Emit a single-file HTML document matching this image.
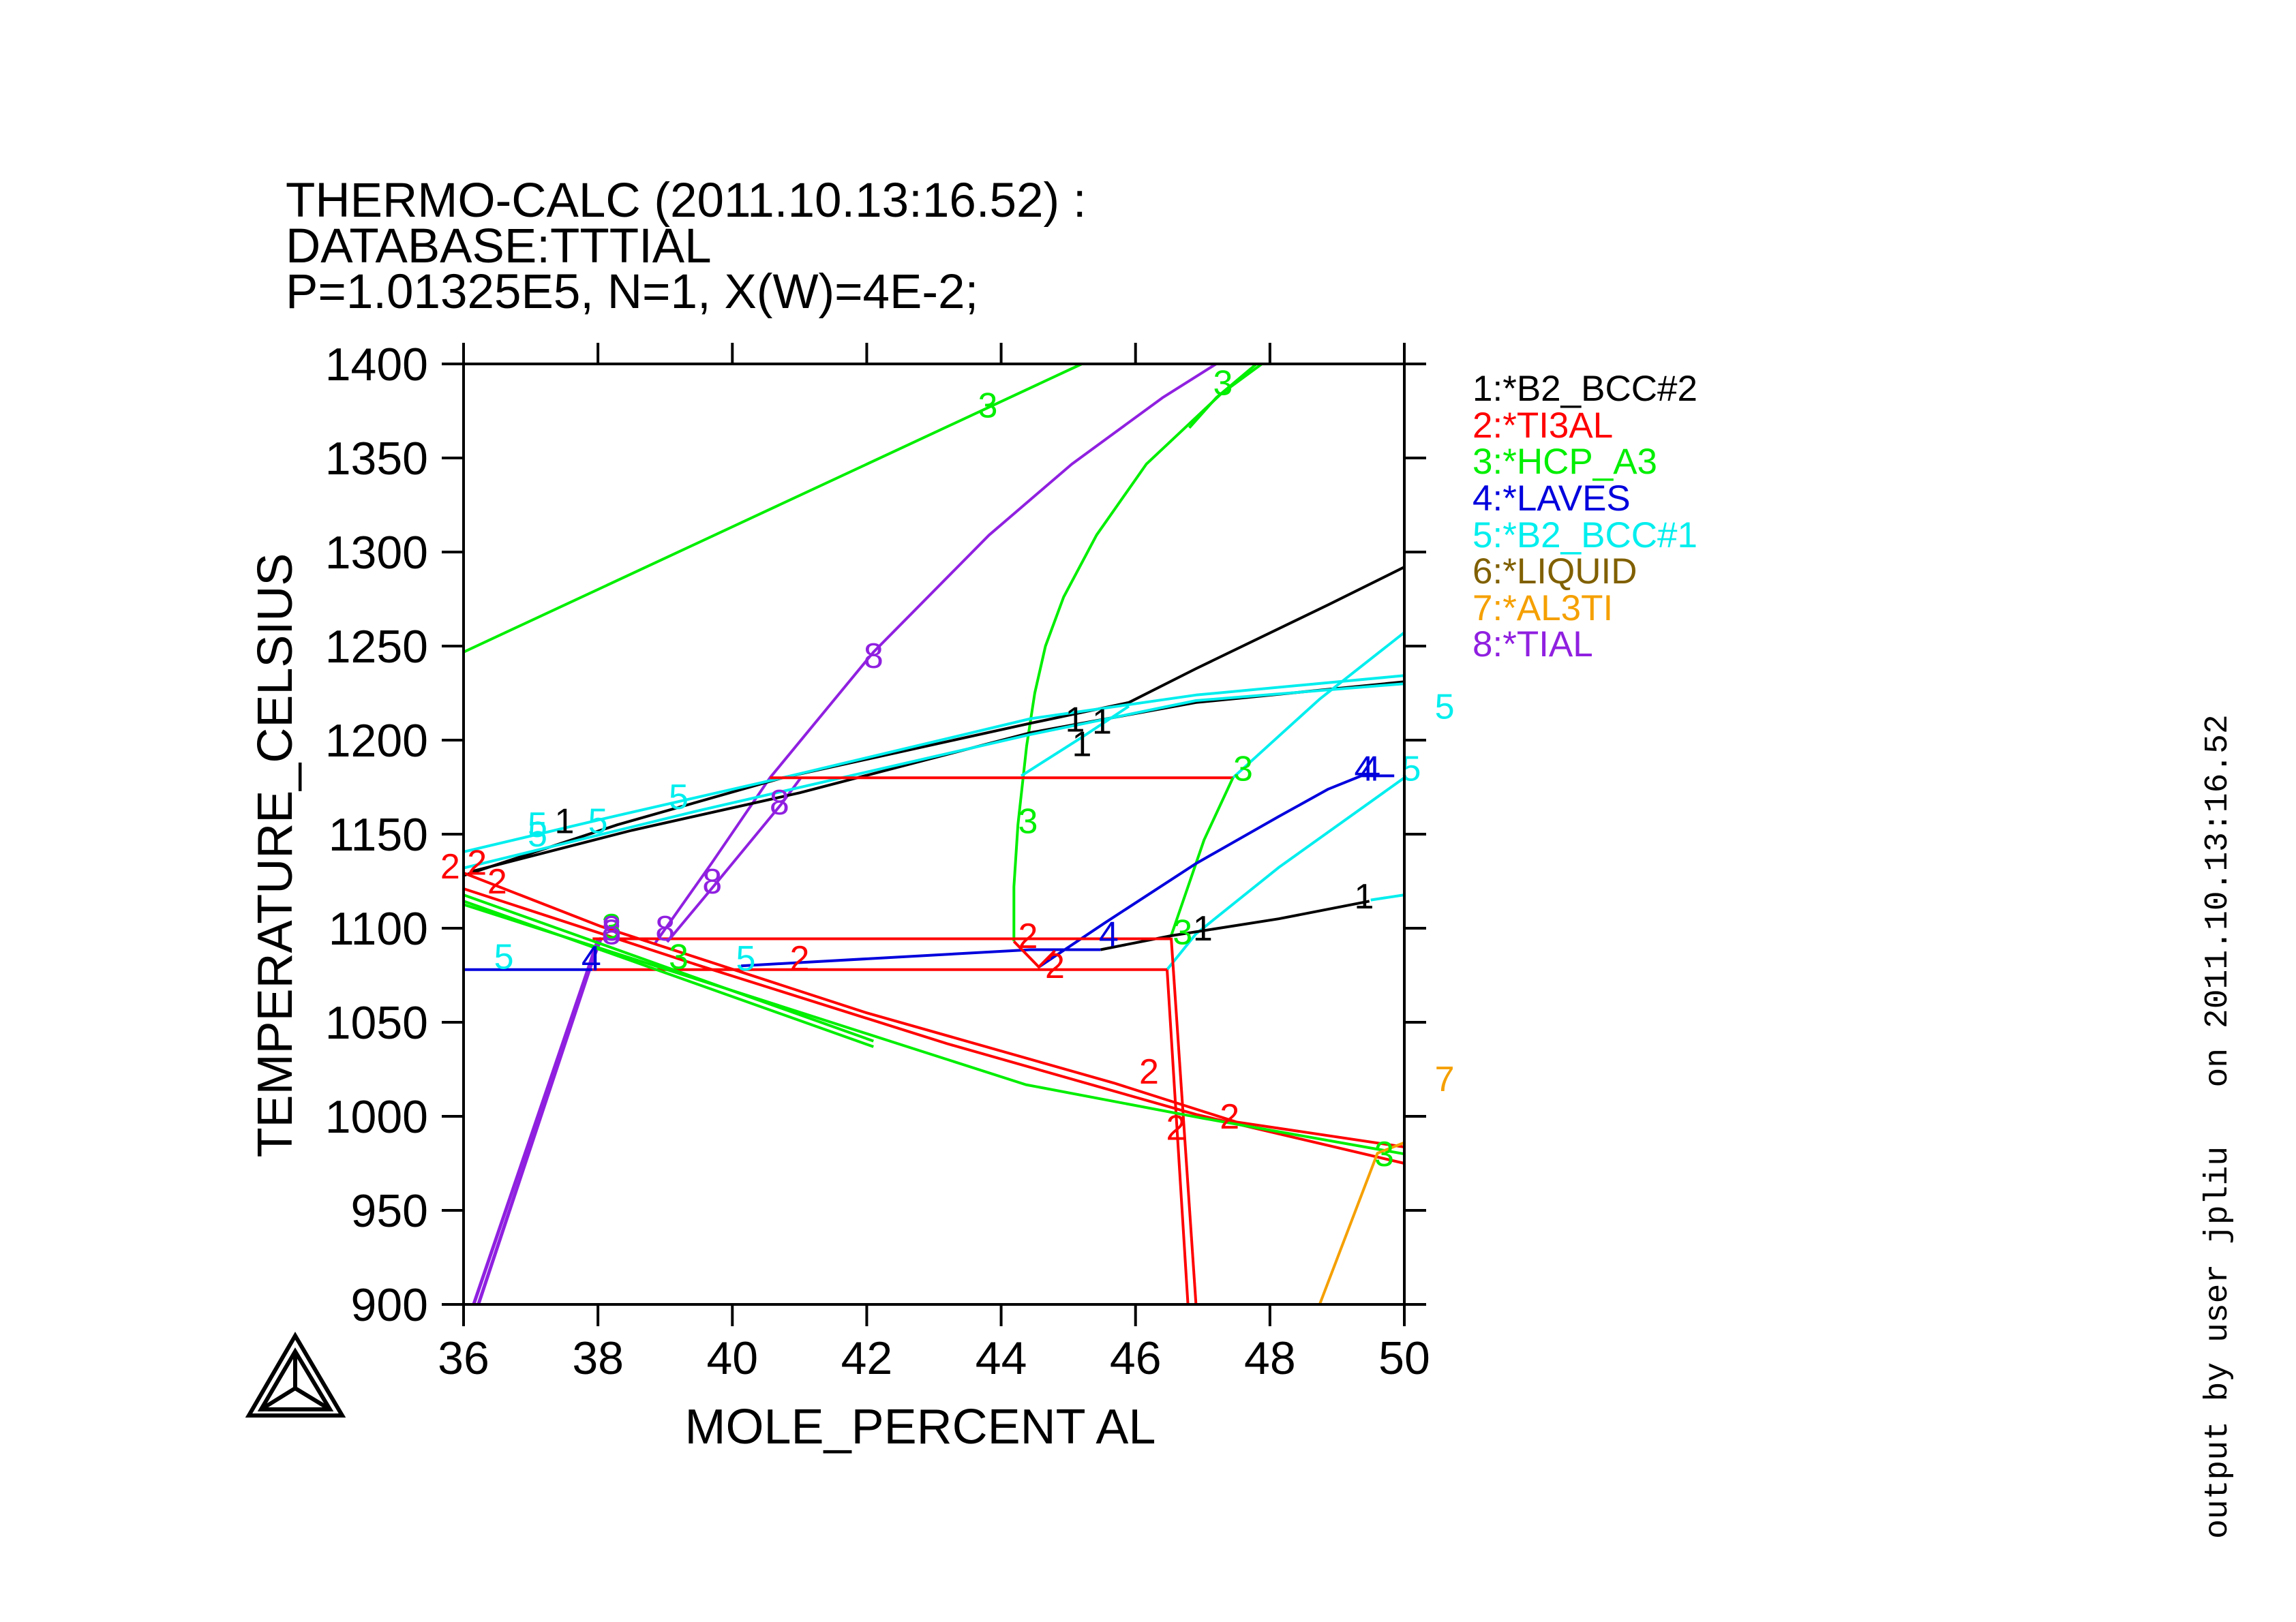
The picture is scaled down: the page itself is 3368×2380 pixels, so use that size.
<!DOCTYPE html>
<html><head><meta charset="utf-8"><style>
html,body{margin:0;padding:0;background:#fff;}
svg{display:block;font-family:"Liberation Sans",sans-serif;}
</style></head><body>
<svg id="chart" width="3368" height="2380" viewBox="0 0 3368 2380" xmlns="http://www.w3.org/2000/svg">
<g font-size="71" fill="#000">
<text x="419" y="318">THERMO-CALC (2011.10.13:16.52) :</text>
<text x="419" y="385">DATABASE:TTTIAL</text>
<text x="419" y="452">P=1.01325E5, N=1, X(W)=4E-2;</text>
</g>
<g id="curves"></g>
<g id="labels" font-size="52"></g>
<g id="axes"></g>
<text x="1350" y="2118" font-size="72" text-anchor="middle">MOLE_PERCENT AL</text>
<text transform="translate(428,1255) rotate(-90)" font-size="72" text-anchor="middle">TEMPERATURE_CELSIUS</text>
<g font-size="53">
<text x="2160" y="588" fill="#000">1:*B2_BCC#2</text>
<text x="2160" y="642" fill="#f00">2:*TI3AL</text>
<text x="2160" y="695" fill="#0e0">3:*HCP_A3</text>
<text x="2160" y="749" fill="#00d">4:*LAVES</text>
<text x="2160" y="803" fill="#0ee">5:*B2_BCC#1</text>
<text x="2160" y="856" fill="#806000">6:*LIQUID</text>
<text x="2160" y="910" fill="#f5a000">7:*AL3TI</text>
<text x="2160" y="963" fill="#9020e0">8:*TIAL</text>
</g>
<text transform="translate(3266,2258) rotate(-90)" font-family="Liberation Mono,monospace" font-size="48" xml:space="preserve">output by user jpliu   on 2011.10.13:16.52</text>
<g fill="none" stroke="#000" stroke-width="6">
<polygon points="433,1960 365,2077 502,2077"/>
<polygon points="433,1983 383,2068 484,2068"/>
<path d="M433,1983 L433,2037 M383,2068 L433,2037 M484,2068 L433,2037"/>
</g>
</svg>
<script>
const xTicks=[36,38,40,42,44,46,48,50];
const yTicks=[900,950,1000,1050,1100,1150,1200,1250,1300,1350,1400];
const seriesColors={1:"#000",2:"#f00",3:"#0e0",4:"#00d",5:"#0ee",7:"#f5a000",8:"#9020e0"};
const green1=[[36,1246.8],[45.2,1400]];
const purpleA=[[38.85,1092],[39.7,1135],[40.56,1180],[42.1,1246.8],[43.82,1309],[45.05,1346.7],[46.4,1382],[47.2,1400]];
const purpleB=[[39.03,1092.7],[39.76,1124],[40.72,1165.6],[41.02,1180]];
const purpleC=[[36.15,900],[37.85,1078],[38.0,1094]];
const purpleD=[[36.22,900],[37.92,1083],[38.05,1095]];
const green2=[[47.88,1400],[47.27,1384],[46.16,1346.7],[45.42,1309],[44.93,1276],[44.66,1250],[44.5,1225],[44.38,1197],[44.25,1155],[44.19,1122],[44.19,1093]];
const green2b=[[47.8,1400],[47.2,1382],[46.8,1366]];
const black1=[[36,1128],[38.29,1155],[40.75,1180],[44.44,1209],[45.9,1220],[46.9,1238],[48.87,1272],[50,1292]];
const black2=[[36.1,1130],[38.5,1152],[41,1172],[44.44,1204],[46.9,1220],[50,1231]];
const cyan1=[[36,1140.6],[38.3,1160],[40.75,1180],[44.44,1211.4],[46.9,1224],[50,1234.3]];
const cyan2=[[36,1132],[39.52,1162.7],[44.44,1203],[46.9,1221],[50,1230]];
const cyan3=[[44.3,1181],[45.18,1201],[45.9,1218]];
const cyan4=[[47.45,1180],[48.74,1221.8],[50,1257.2]];
const red1180=[[40.56,1180],[47.45,1180]];
const green3=[[47.45,1180],[47.02,1147],[46.53,1096]];
const blue1=[[44.56,1079.4],[45.55,1103],[46.9,1134.4],[48.13,1159.4],[48.87,1174],[49.36,1181],[49.85,1181]];
const blue2=[[36,1078],[37.92,1078]];
const blue3=[[40.13,1080],[44.44,1088.6],[45.48,1088.6]];
const cyan5=[[46.47,1078],[46.9,1097],[48.13,1132.3],[50,1180]];
const cyan6=[[49.5,1115],[50,1117.7]];
const black3=[[45.48,1088.6],[46.53,1096],[48.13,1105],[49.48,1114.4]];
const red1095=[[37.92,1094.4],[46.53,1094.4]];
const red1078=[[37.92,1078],[46.47,1078]];
const redKink=[[44.19,1093],[44.56,1079.4],[44.8,1088]];
const redV1=[[46.47,1078],[46.78,900]];
const redV2=[[46.53,1095],[46.9,900]];
const redD1=[[36,1129.4],[38.04,1101],[42,1055],[45.67,1017.8],[47.5,997],[50,983.7]];
const redD2=[[36,1121],[39.52,1080],[43.2,1038.6],[46.9,1001],[50,975]];
const greenD1=[[36,1117.7],[42.1,1040]];
const greenD2=[[36,1114.4],[42.1,1037]];
const greenD3=[[36,1112.6],[44.37,1016.8],[47,999],[50,980]];
const orange1=[[48.74,900],[49.6,980.4],[50,986]];
const curves=[[green1,3],[purpleA,8],[purpleB,8],[purpleC,8],[purpleD,8],[green2,3],[green2b,3],[black1,1],[black2,1],[cyan1,5],[cyan2,5],[cyan3,5],[cyan4,5],[red1180,2],[green3,3],[blue1,4],[blue2,4],[blue3,4],[cyan5,5],[cyan6,5],[black3,1],[red1095,2],[red1078,2],[redKink,2],[redV1,2],[redV2,2],[redD1,2],[redD2,2],[greenD1,3],[greenD2,3],[greenD3,3],[orange1,7]];
const labelText=["3","3","8","8","8","8","8","1","1","1","5","5","5","5","1","2","2","2","3","3","3","3","3","4","4","4","4","5","5","2","2","2","2","2","2","3","1","1","5","5","7","8"];
const labelX=[43.8,47.3,42.1,40.7,39.7,39.0,38.2,45.1,45.5,45.2,37.1,38.0,39.2,37.1,37.5,35.8,36.2,36.5,38.2,39.2,44.4,47.6,46.7,37.9,45.6,49.4,49.5,36.6,40.2,44.4,44.8,41.0,46.2,46.6,47.4,49.7,49.4,47.0,50.1,50.6,50.6,38.2];
const labelY=[1378,1390,1245,1167,1125,1100,1098,1211,1210,1198,1155,1157,1170,1150,1157,1133,1135,1125,1101,1085,1157,1185,1098,1084,1097,1185,1185,1085,1084,1096,1080,1084,1024,994,1000,980,1117,1100,1185,1218,1020,1100];
const labelColor=[3,3,8,8,8,8,8,1,1,1,5,5,5,5,1,2,2,2,3,3,3,3,3,4,4,4,4,5,5,2,2,2,2,2,2,3,1,1,5,5,7,8];
const L=680,R=2060,T=534,B=1914;
function sx(v){return L+(v-36)*(R-L)/14;}
function sy(t){return B-(t-900)*(B-T)/500;}
const NS="http://www.w3.org/2000/svg";
const cg=document.getElementById('curves');
curves.forEach(function(c,i){
  const p=document.createElementNS(NS,'polyline');
  p.setAttribute('points',c[0].map(function(q){return sx(q[0]).toFixed(1)+','+sy(q[1]).toFixed(1);}).join(' '));
  p.setAttribute('fill','none');
  p.setAttribute('stroke',seriesColors[c[1]]);
  p.setAttribute('stroke-width',(c[1]==8&&i>=3&&i<=4)?'5':'4');
  p.setAttribute('stroke-linejoin','round');
  
  
  cg.appendChild(p);
});
const lg=document.getElementById('labels');
labelText.forEach(function(s,i){
  const t=document.createElementNS(NS,'text');
  t.setAttribute('x',sx(labelX[i]).toFixed(1));
  t.setAttribute('y',(sy(labelY[i])+18).toFixed(1));
  t.setAttribute('text-anchor','middle');
  t.setAttribute('fill',seriesColors[labelColor[i]]);
  t.textContent=s;
  
  
  lg.appendChild(t);
});
const ag=document.getElementById('axes');
function line(x1,y1,x2,y2,name){
  const l=document.createElementNS(NS,'line');
  l.setAttribute('x1',x1);l.setAttribute('y1',y1);l.setAttribute('x2',x2);l.setAttribute('y2',y2);
  l.setAttribute('stroke','#000');l.setAttribute('stroke-width','4');
  
  
  ag.appendChild(l);
}
line(L,T,L,B,'y-axis-left');line(R,T,R,B,'y-axis-right');
line(L,T,R,T,'x-axis-top');line(L,B,R,B,'x-axis-bottom');
xTicks.forEach(function(v){
  const x=sx(v);
  line(x,B,x,B+32,'x-tick');line(x,T,x,T-31,'x-tick-top');
  const t=document.createElementNS(NS,'text');
  t.setAttribute('x',x);t.setAttribute('y',2016);t.setAttribute('font-size','68');t.setAttribute('text-anchor','middle');
  t.textContent=v;
  
  
  ag.appendChild(t);
});
yTicks.forEach(function(v){
  const y=sy(v);
  line(L-32,y,L,y,'y-tick');line(R,y,R+32,y,'y-tick-right');
  const t=document.createElementNS(NS,'text');
  t.setAttribute('x',628);t.setAttribute('y',y+24);t.setAttribute('font-size','68');t.setAttribute('text-anchor','end');
  t.textContent=v;
  
  
  ag.appendChild(t);
});
</script>
</body></html>
